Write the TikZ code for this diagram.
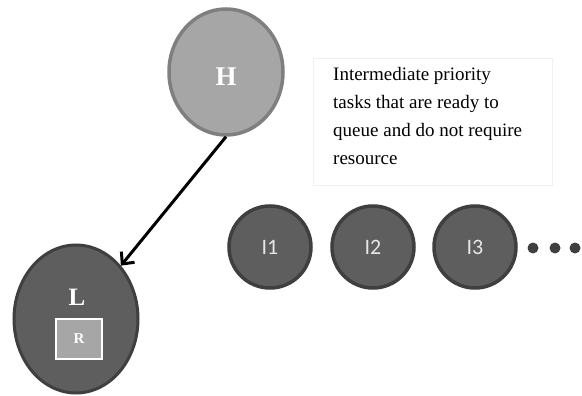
\documentclass[tikz,border=0pt]{standalone}
\usepackage{fontspec}
\setmainfont{Liberation Serif}
\newfontfamily\calib{Carlito}
\usetikzlibrary{arrows.meta,shapes.geometric}
\definecolor{hfill}{HTML}{A6A6A6}
\definecolor{hline}{HTML}{7F7F7F}
\definecolor{tfill}{HTML}{5E5E5E}
\definecolor{tline}{HTML}{3F3F3F}
\definecolor{tfont}{HTML}{E6E6E6}
\tikzset{
    htask/.style={ellipse,fill=hfill,draw=hline,line width=3.5pt,minimum width=114pt,minimum height=126pt,inner sep=0pt},
    ltask/.style={ellipse,fill=tfill,draw=tline,line width=3pt,minimum width=124pt,minimum height=148pt,inner sep=0pt},
    itask/.style={circle,fill=tfill,draw=tline,line width=3.5pt,minimum size=82pt,inner sep=0pt,text=tfont,font=\calib\fontsize{22}{22}\selectfont}
}
\begin{document}
\begin{tikzpicture}[x=1pt,y=-1pt]
            	\useasboundingbox (0,0) rectangle (582,396);

				\node[htask] (H) at (226,72) {};
				\node[text=white,font=\bfseries\fontsize{27}{27}\selectfont] (Hlab) at (226,77) {H};

				\node[ltask] (L) at (76,319) {};
				\node[text=white,font=\bfseries\fontsize{25}{25}\selectfont] (Llab) at (77,297) {L};
				\node[fill=hfill,draw=white,line width=2.5pt,minimum width=46pt,minimum height=40pt,inner sep=0pt,text=white,font=\bfseries\fontsize{15}{15}\selectfont] (R) at (79,339) {R};

				\draw[line width=3pt,-{Straight Barb[length=9pt,width=17pt,line width=3pt]}] (H.south) -- (L.north east);

				\foreach \x/\name in {270/1,373/2,475/3}
                {
                    \node[itask] (I\name) at (\x,247) {I\name};
				}

				\foreach \x/\k in {533/a,555/b,575/c}
                {
                    \fill[tline] (\x,248) circle [radius = 5.5];
				}

				\node[draw=black!6,line width=0.8pt,minimum width=239pt,minimum height=127pt,inner sep=0pt] (note) at (432.5,121.5) {};
				\node[anchor=north west,align=left,inner sep=0pt,font=\fontsize{19}{28}\selectfont] (notetext) at (333,67) {Intermediate priority\\tasks that are ready to\\queue and do not require\\resource};

\end{tikzpicture}
\end{document}
